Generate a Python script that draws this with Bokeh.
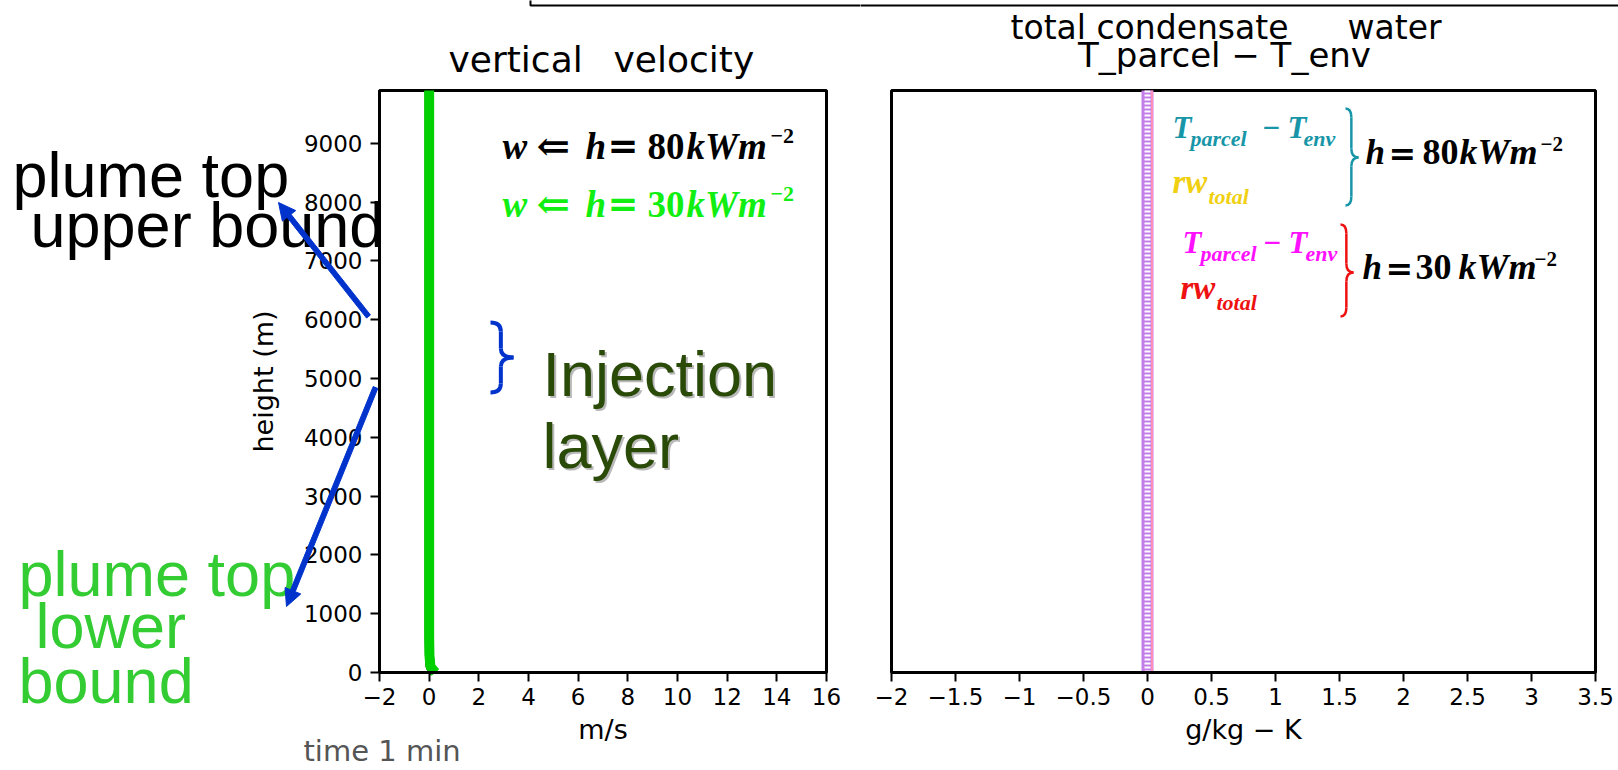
import numpy as np
from bokeh.plotting import figure
from bokeh.models import Label, PolyAnnotation, FixedTicker, Range1d
from bokeh.layouts import row
from bokeh.embed import file_html
from bokeh.resources import INLINE

# ---------------- data ----------------
heights = [0, 100, 300, 600, 1000, 2000, 3000, 4000, 5000, 6000, 7000, 8000, 9000, 9900]
w_h80 = [0.20, 0.04, 0.01, 0.0, 0.0, 0.0, 0.0, 0.0, 0.0, 0.0, 0.0, 0.0, 0.0, 0.0]
w_h30 = [0.25, 0.05, 0.01, 0.0, 0.0, 0.0, 0.0, 0.0, 0.0, 0.0, 0.0, 0.0, 0.0, 0.0]

heights_r = [0, 1000, 2000, 3000, 4000, 5000, 6000, 7000, 8000, 9000, 9900]
tdiff_h30 = [0.0, 0.0, 0.0, 0.0, 0.0, 0.0, 0.0, 0.0, 0.0, 0.0, 0.0]
rw_h30 = [0.035, 0.035, 0.035, 0.035, 0.035, 0.035, 0.035, 0.035, 0.035, 0.035, 0.035]

left_xlim = (-2, 16)
right_xlim = (-2, 3.5)
ylim = (0, 9900)
left_xticks = [-2, 0, 2, 4, 6, 8, 10, 12, 14, 16]
left_xlabels = ["−2", "0", "2", "4", "6", "8", "10", "12", "14", "16"]
left_yticks = [0, 1000, 2000, 3000, 4000, 5000, 6000, 7000, 8000, 9000]
right_xticks = [-2, -1.5, -1, -0.5, 0, 0.5, 1, 1.5, 2, 2.5, 3, 3.5]
right_xlabels = ["−2", "−1.5", "−1", "−0.5", "0", "0.5", "1", "1.5", "2", "2.5", "3", "3.5"]

# ---------------- layout geometry (page pixels) ----------------
W, H = 1618, 770
W1 = 860
L_PX0, L_PX1 = 379, 826
R_PX0, R_PX1 = 891, 1595
PY0, PY1 = 672, 90
BASE_SHIFT = 0.31   # label anchor correction (fraction of font size)


def lx(px):
    return left_xlim[0] + (px - L_PX0) * (left_xlim[1] - left_xlim[0]) / (L_PX1 - L_PX0)


def rx(px):
    return right_xlim[0] + (px - R_PX0) * (right_xlim[1] - right_xlim[0]) / (R_PX1 - R_PX0)


def yy(py):
    return ylim[0] + (PY0 - py) * (ylim[1] - ylim[0]) / (PY0 - PY1)


def make_fig(width, fx, px0, px1, yaxis=True):
    kw = dict(width=width, height=H,
              x_range=Range1d(fx(px0), fx(px1)), y_range=Range1d(yy(H), yy(0)),
              output_backend="svg", toolbar_location=None, title=None,
              min_border_left=0, min_border_right=0,
              min_border_top=0, min_border_bottom=0)
    if not yaxis:
        kw["y_axis_location"] = None
    p = figure(**kw)
    p.grid.visible = False
    p.outline_line_color = None
    p.background_fill_color = "white"
    p.border_fill_color = "white"
    return p


def style_axis(ax):
    ax.major_tick_out = 9
    ax.major_tick_in = 0
    ax.major_tick_line_width = 2
    ax.minor_tick_line_color = None
    ax.axis_line_width = 3
    ax.axis_line_color = "black"
    ax.major_label_text_font = "DejaVu Sans"
    ax.major_label_text_font_size = "23px"
    ax.major_label_text_color = "black"
    ax.axis_label_text_font = "DejaVu Sans"
    ax.axis_label_text_font_size = "27px"
    ax.axis_label_text_font_style = "normal"
    ax.axis_label_text_color = "black"


pL = make_fig(W1, lx, 0, W1)
pR = make_fig(W - W1, rx, W1, W, yaxis=False)

# axes (placed at the plot-box edges)
xa = pL.xaxis[0]
style_axis(xa)
xa.fixed_location = ylim[0]
xa.bounds = left_xlim
xa.ticker = FixedTicker(ticks=left_xticks)
xa.major_label_overrides = {t: s for t, s in zip(left_xticks, left_xlabels)}
xa.major_label_standoff = 6
xa.axis_label = "m/s"
xa.axis_label_standoff = 6

ya = pL.yaxis[0]
style_axis(ya)
ya.fixed_location = left_xlim[0]
ya.bounds = ylim
ya.ticker = FixedTicker(ticks=left_yticks)
ya.major_label_standoff = 8
ya.axis_label = "height (m)"
ya.axis_label_standoff = 22

xr_ = pR.xaxis[0]
style_axis(xr_)
xr_.fixed_location = ylim[0]
xr_.bounds = right_xlim
xr_.ticker = FixedTicker(ticks=right_xticks)
xr_.major_label_overrides = {t: s for t, s in zip(right_xticks, right_xlabels)}
xr_.major_label_standoff = 6
xr_.axis_label = "g/kg − K"
xr_.axis_label_standoff = 6

# plot boxes
pL.quad(left=[left_xlim[0]], right=[left_xlim[1]], bottom=[ylim[0]], top=[ylim[1]],
        fill_color=None, line_color="black", line_width=3)
pR.quad(left=[right_xlim[0]], right=[right_xlim[1]], bottom=[ylim[0]], top=[ylim[1]],
        fill_color=None, line_color="black", line_width=3)

# ---------------- data lines ----------------
pL.line(w_h80, heights, line_width=9, color="black")
pL.line(w_h30, heights, line_width=10, color="#00d000")

pR.line(tdiff_h30, heights_r, line_width=12, color="#c47ee8")
pR.line(tdiff_h30, heights_r, line_width=6, color="white", line_dash="2 2")
pR.line(rw_h30, heights_r, line_width=2, color="#ff8fb8")


# ---------------- text helpers ----------------
def lab(p, fx, txt, px, py, size, color="black", font="DejaVu Sans", style="normal",
        align="left", alpha=1.0):
    p.add_layout(Label(x=fx(px), y=yy(py - BASE_SHIFT * size), text=txt, text_font=font,
                       text_font_size=f"{size}px", text_color=color, text_alpha=alpha,
                       text_font_style=style, text_align=align,
                       text_baseline="alphabetic"))


def poly(p, fx, pts, color, fill=True, lw=1):
    xs = [fx(a) for a, b in pts]
    ys = [yy(b) for a, b in pts]
    p.add_layout(PolyAnnotation(xs=xs, ys=ys, line_color=color, line_width=lw,
                                line_alpha=1.0,
                                fill_color=color if fill else None,
                                fill_alpha=1.0 if fill else 0.0))


def arrow(p, fx, tail, tip, color, sw=5, hl=17, hw=17):
    t = np.array(tail, float)
    h = np.array(tip, float)
    d = (h - t) / np.linalg.norm(h - t)
    n = np.array([-d[1], d[0]])
    base = h - d * hl
    pts = [t + n * sw / 2, base + n * sw / 2, base + n * hw / 2, h,
           base - n * hw / 2, base - n * sw / 2, t - n * sw / 2]
    poly(p, fx, [tuple(q) for q in pts], color)


def brace(p, fx, x0, w, top, mid, bot, color, lw):
    xm = x0 + 0.45 * w
    r = min(9, (bot - top) / 6.0)
    X = fx
    p.quadratic(x0=[X(x0), X(xm), X(x0 + w), X(xm)],
                y0=[yy(top), yy(mid - r), yy(mid), yy(bot - r)],
                x1=[X(xm), X(x0 + w), X(xm), X(x0)],
                y1=[yy(top + r), yy(mid), yy(mid + r), yy(bot)],
                cx=[X(xm), X(xm), X(xm), X(xm)],
                cy=[yy(top), yy(mid), yy(mid), yy(bot)],
                line_color=color, line_width=lw)
    p.segment(x0=[X(xm), X(xm)], y0=[yy(top + r), yy(mid + r)],
              x1=[X(xm), X(xm)], y1=[yy(mid - r), yy(bot - r)],
              line_color=color, line_width=lw)


# ---------------- titles ----------------
lab(pL, lx, "vertical", 448, 70, 36)
lab(pL, lx, "velocity", 613, 70, 36)
lab(pR, rx, "total condensate", 1010, 37, 33)
lab(pR, rx, "water", 1347, 37, 33)
lab(pR, rx, "T_parcel − T_env", 1224, 65, 34, align="center")
lab(pL, lx, "time 1 min", 303, 759, 29, color="#555555")

# top frame line of the slide box
poly(pL, lx, [(530, -10), (530, 5), (880, 5), (880, -10)], "black", fill=False, lw=2)
poly(pR, rx, [(840, -10), (840, 5), (1640, 5), (1640, -10)], "black", fill=False, lw=2)

# ---------------- left legend ----------------
SER = "Liberation Serif"
for col, num, base, sup in [("black", "80", 157, 142), ("#11ee11", "30", 215, 200)]:
    lab(pL, lx, "w", 502, base, 37, col, SER, "bold italic")
    lab(pL, lx, "⇐", 536, base, 40, col, "DejaVu Serif", "bold")
    lab(pL, lx, "h", 585, base, 37, col, SER, "bold italic")
    lab(pL, lx, "=", 607, base, 37, col, "DejaVu Serif", "bold")
    lab(pL, lx, num, 647, base, 37, col, SER, "bold")
    lab(pL, lx, "kWm", 686, base, 37, col, SER, "bold italic")
    lab(pL, lx, "−2", 770, sup, 22, col, SER, "bold")

# ---------------- right legend ----------------
TEAL, GOLD, MAG, RED = "#1896a8", "#f0d010", "#ff10ff", "#ee1111"
for col, xs, base in [(TEAL, (1172, 1190, 1262, 1287, 1303), 137),
                      (MAG, (1182, 1200, 1263, 1288, 1305), 252)]:
    lab(pR, rx, "T", xs[0], base, 31, col, SER, "bold italic")
    lab(pR, rx, "parcel", xs[1], base + 8, 22, col, SER, "bold italic")
    lab(pR, rx, "−", xs[2], base, 31, col, SER, "bold")
    lab(pR, rx, "T", xs[3], base, 31, col, SER, "bold italic")
    lab(pR, rx, "env", xs[4], base + 8, 22, col, SER, "bold italic")
for col, x0, base in [(GOLD, 1172, 192), (RED, 1180, 298)]:
    lab(pR, rx, "rw", x0, base, 33, col, SER, "bold italic")
    lab(pR, rx, "total", x0 + 36, base + 11, 22, col, SER, "bold italic")

lab(pR, rx, "h", 1365, 163, 35, "black", SER, "bold italic")
lab(pR, rx, "=", 1388, 163, 33, "black", "DejaVu Serif", "bold")
lab(pR, rx, "80", 1422, 163, 36, "black", SER, "bold")
lab(pR, rx, "kWm", 1459, 163, 36, "black", SER, "bold italic")
lab(pR, rx, "−2", 1540, 150, 21, "black", SER, "bold")

lab(pR, rx, "h", 1362, 278, 35, "black", SER, "bold italic")
lab(pR, rx, "=", 1385, 278, 33, "black", "DejaVu Serif", "bold")
lab(pR, rx, "30", 1415, 278, 36, "black", SER, "bold")
lab(pR, rx, "kWm", 1458, 278, 36, "black", SER, "bold italic")
lab(pR, rx, "−2", 1534, 265, 21, "black", SER, "bold")

brace(pR, rx, 1345, 13, 108, 157, 205, TEAL, 2.5)
brace(pR, rx, 1340, 13, 224, 272, 316, RED, 2.5)

# ---------------- slide annotations ----------------
BLUE = "#0033cc"
brace(pL, lx, 490, 23, 322, 357, 392, BLUE, 4)
for dx, col, a in [(2, "#a8a8a8", 0.8), (0, "#2a4a08", 1.0)]:
    lab(pL, lx, "Injection", 542 + dx, 393 + dx, 63, col, "Liberation Sans", alpha=a)
    lab(pL, lx, "layer", 542 + dx, 465 + dx, 63, col, "Liberation Sans", alpha=a)

lab(pL, lx, "plume top", 12, 194, 63, "black", "Liberation Sans")
lab(pL, lx, "upper bound", 30, 244, 63, "black", "Liberation Sans")
GREEN = "#33cc33"
lab(pL, lx, "plume top", 18, 593, 63, GREEN, "Liberation Sans")
lab(pL, lx, "lower", 35, 645, 63, GREEN, "Liberation Sans")
lab(pL, lx, "bound", 18, 700, 63, GREEN, "Liberation Sans")

arrow(pL, lx, (368, 316), (278, 202), BLUE)
arrow(pL, lx, (375, 387), (286, 606), BLUE)

layout = row(pL, pR)
open("out.html", "w").write(file_html(layout, INLINE))
